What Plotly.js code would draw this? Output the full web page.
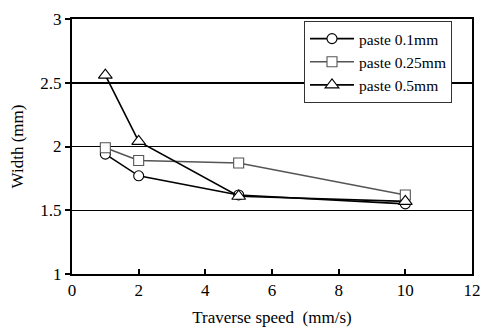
<!DOCTYPE html>
<html>
<head>
<meta charset="utf-8">
<script src="https://cdn.plot.ly/plotly-3.0.1.min.js"></script>
<style>html,body{margin:0;padding:0;background:#fff;}#chart{width:488px;height:331px;}</style>
</head>
<body>
<div id="chart"></div>
<script>
// Traverse speed (mm/s)
const speed = [1, 2, 5, 10];
// Bead width (mm) for each paste thickness
const width01 = [1.94, 1.77, 1.62, 1.55];
const width025 = [1.99, 1.89, 1.87, 1.62];
const width05 = [2.56, 2.04, 1.61, 1.57];
const seriesNames = ['paste 0.1mm', 'paste 0.25mm', 'paste 0.5mm'];

const font = '"Liberation Serif", "Times New Roman", serif';

function series(y, name, symbol, color, size) {
  return {
    x: speed, y: y, name: name, type: 'scatter', mode: 'lines+markers',
    line: {color: color, width: 1.6},
    marker: {symbol: symbol, size: size, color: '#ffffff', line: {color: color, width: 1.1}},
    cliponaxis: false
  };
}

const data = [
  series(width01, seriesNames[0], 'circle', '#000000', 10),
  series(width025, seriesNames[1], 'square', '#555555', 10),
  series(width05, seriesNames[2], 'triangle-up', '#000000', 12)
];

const layout = {
  width: 488, height: 331,
  margin: {l: 72, r: 16, t: 19, b: 57},
  paper_bgcolor: '#ffffff', plot_bgcolor: '#ffffff',
  font: {family: font, size: 15, color: '#000'},
  showlegend: true,
  legend: {
    x: 0.58, y: 0.992, xanchor: 'left', yanchor: 'top',
    bgcolor: '#ffffff', bordercolor: '#333', borderwidth: 1,
    font: {family: font, size: 15.5, color: '#000'},
    tracegroupgap: 0, itemwidth: 44
  },
  xaxis: {
    range: [0, 12], dtick: 2, tick0: 0,
    showgrid: false, zeroline: false,
    showline: true, linecolor: '#000', linewidth: 2, mirror: true,
    ticks: 'inside', ticklen: 5, tickwidth: 2, tickcolor: '#000',
    tickfont: {family: font, size: 17},
    title: {text: 'Traverse speed  (mm/s)', font: {family: font, size: 17}, standoff: 12}
  },
  yaxis: {
    range: [1, 3], dtick: 0.5, tick0: 1,
    showgrid: true, gridcolor: '#000', gridwidth: 1.5, zeroline: false,
    showline: true, linecolor: '#000', linewidth: 2, mirror: true,
    ticks: 'outside', ticklen: 5, tickwidth: 2, tickcolor: '#000',
    tickfont: {family: font, size: 17},
    title: {text: 'Width (mm)', font: {family: font, size: 17}, standoff: 12}
  }
};

Plotly.newPlot('chart', data, layout, {displayModeBar: false, staticPlot: true});
</script>
</body>
</html>
